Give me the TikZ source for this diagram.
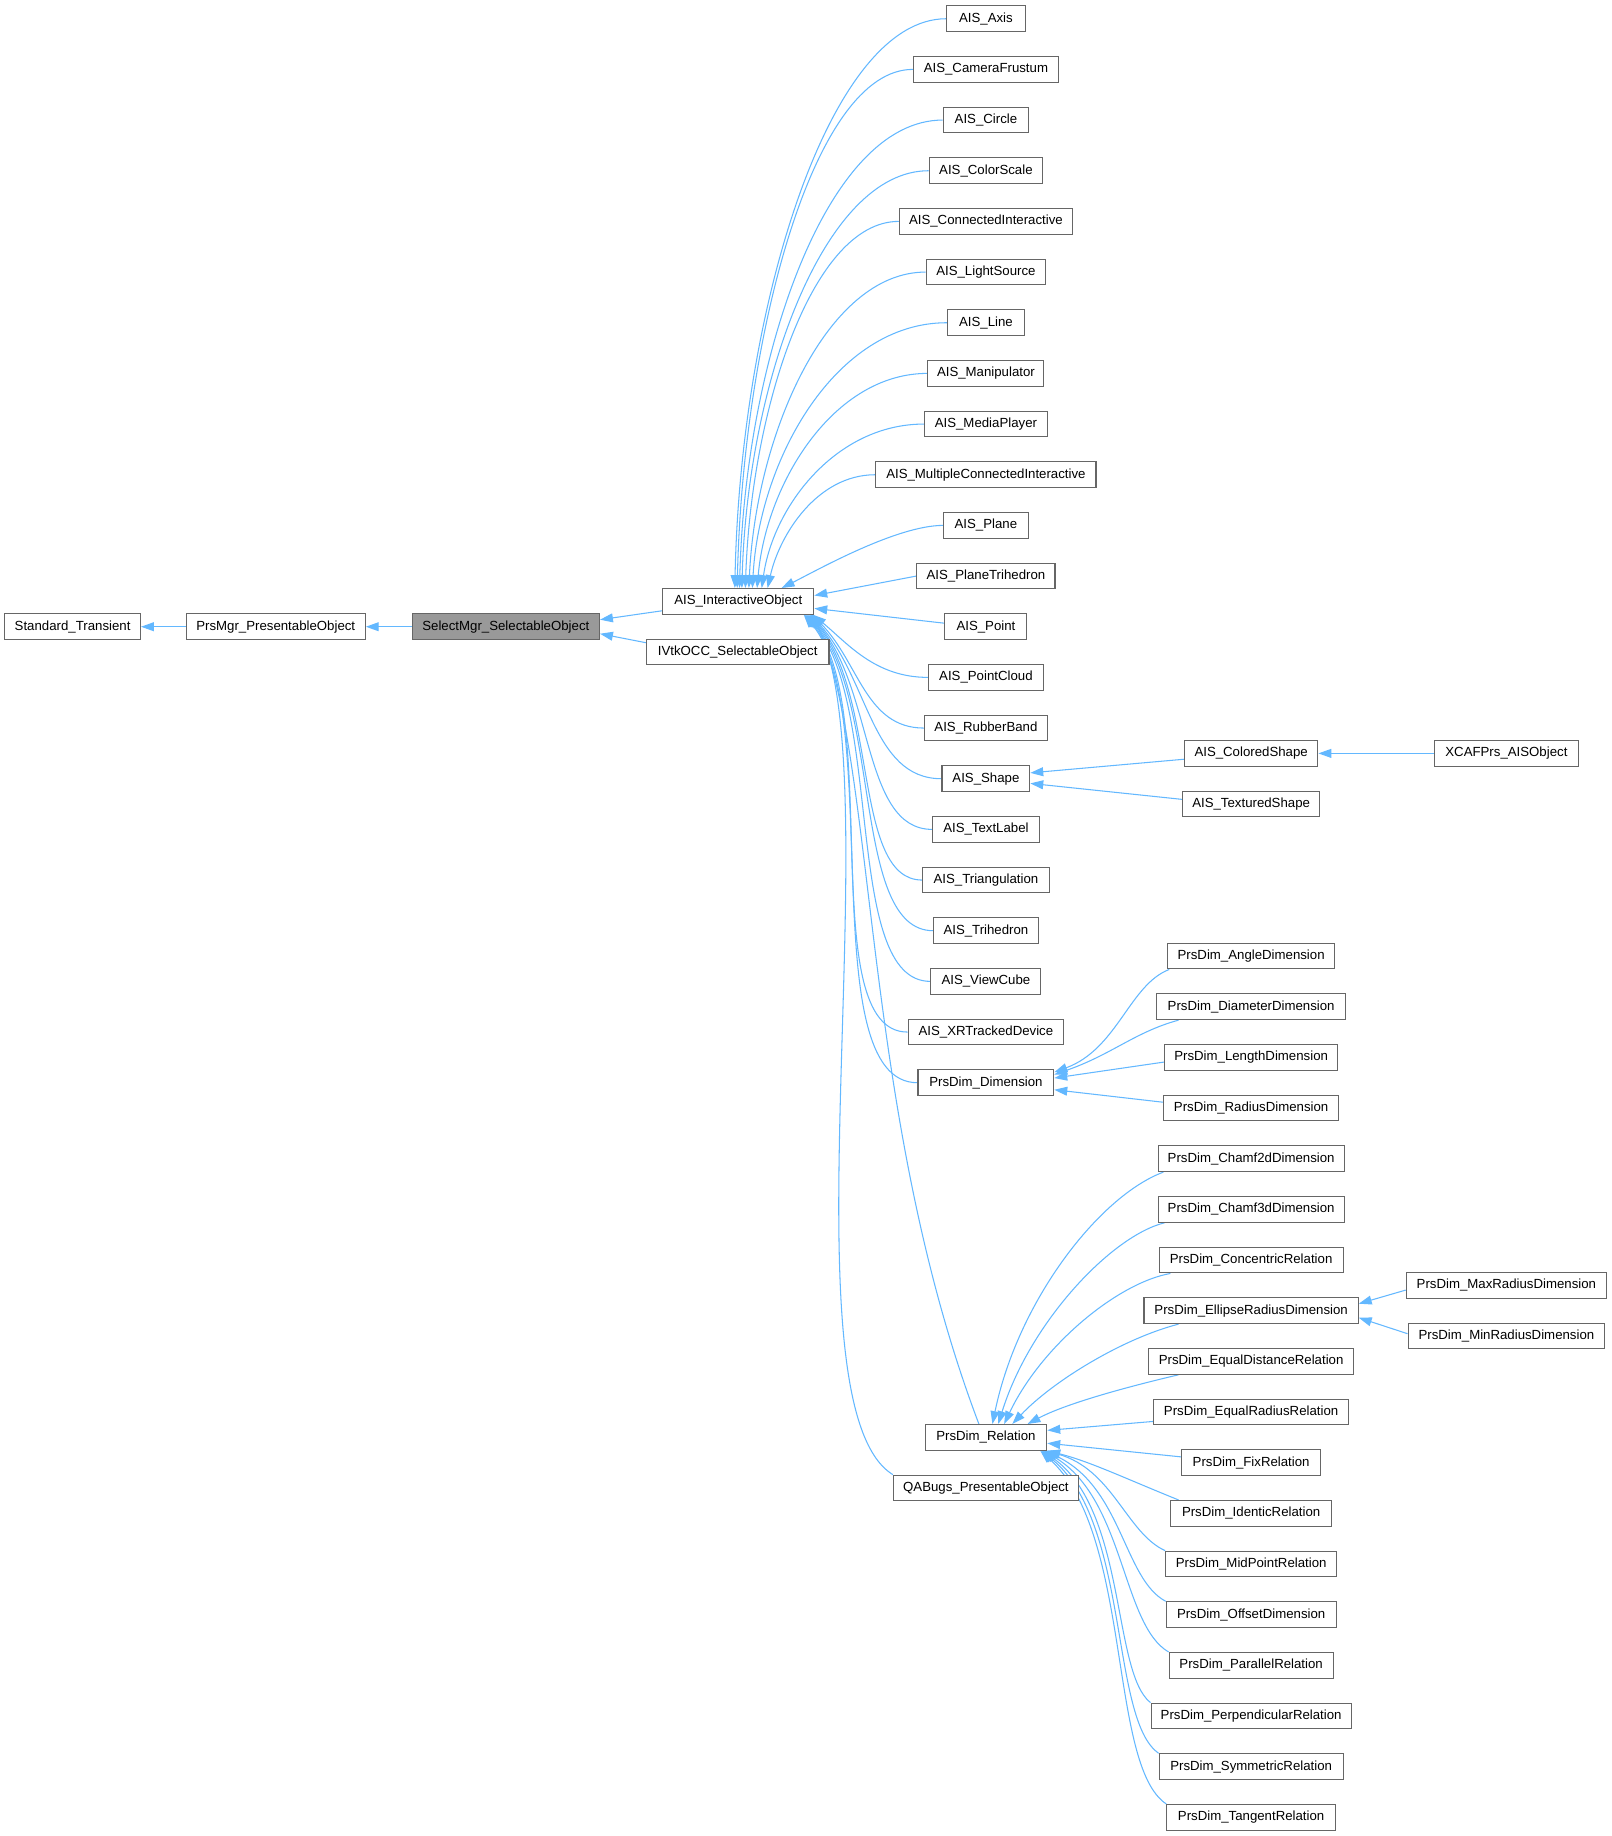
\documentclass[tikz,border=0pt]{standalone}
\usepackage{fontspec}
\setmainfont{Liberation Sans}
\usetikzlibrary{arrows.meta}
\definecolor{boxgray}{HTML}{666666}
\definecolor{edgeblue}{HTML}{63B8FF}
\definecolor{selgray}{HTML}{999999}
\pgfdeclarelayer{edges}
\pgfsetlayers{edges,main}
\begin{document}
\begin{tikzpicture}[x=1pt,y=-1pt,
 box/.style={draw=boxgray,fill=white,line width=0.9pt,minimum height=22pt,inner sep=0pt,font=\fontsize{11.3}{13.6}\selectfont},
 inh/.style={draw=edgeblue,line width=0.9pt,-{Triangle[length=11pt,width=7.6pt]}}]
\useasboundingbox (0,0) rectangle (1376,1568);
% left chain
\node[box,minimum width=116pt] (st) at (62,{16+43.27*12}) {Standard\_Transient};
\node[box,minimum width=153pt] (pm) at (235.5,{16+43.27*12}) {PrsMgr\_PresentableObject};
\node[box,minimum width=160pt,fill=selgray] (sm) at (432,{16+43.27*12}) {SelectMgr\_SelectableObject};
\node[box,minimum width=129pt] (aio) at (630.5,{16+43.27*11.5}) {AIS\_InteractiveObject};
\node[box,minimum width=156pt] (ivtk) at (630,{16+43.27*12.5}) {IVtkOCC\_SelectableObject};
% AIS column
\node[box,minimum width=67pt] (a0) at (842,{16+43.27*0}) {AIS\_Axis};
\node[box,minimum width=124pt] (a1) at (842,{16+43.27*1}) {AIS\_CameraFrustum};
\node[box,minimum width=73pt] (a2) at (842,{16+43.27*2}) {AIS\_Circle};
\node[box,minimum width=97pt] (a3) at (842,{16+43.27*3}) {AIS\_ColorScale};
\node[box,minimum width=148pt] (a4) at (842,{16+43.27*4}) {AIS\_ConnectedInteractive};
\node[box,minimum width=102pt] (a5) at (842,{16+43.27*5}) {AIS\_LightSource};
\node[box,minimum width=66pt] (a6) at (842,{16+43.27*6}) {AIS\_Line};
\node[box,minimum width=99pt] (a7) at (842,{16+43.27*7}) {AIS\_Manipulator};
\node[box,minimum width=105pt] (a8) at (842,{16+43.27*8}) {AIS\_MediaPlayer};
\node[box,minimum width=188pt] (a9) at (842,{16+43.27*9}) {AIS\_MultipleConnectedInteractive};
\node[box,minimum width=72pt] (a10) at (842,{16+43.27*10}) {AIS\_Plane};
\node[box,minimum width=118pt] (a11) at (842,{16+43.27*11}) {AIS\_PlaneTrihedron};
\node[box,minimum width=70pt] (a12) at (842,{16+43.27*12}) {AIS\_Point};
\node[box,minimum width=98pt] (a13) at (842,{16+43.27*13}) {AIS\_PointCloud};
\node[box,minimum width=105pt] (a14) at (842,{16+43.27*14}) {AIS\_RubberBand};
\node[box,minimum width=75pt] (a15) at (842,{16+43.27*15}) {AIS\_Shape};
\node[box,minimum width=91pt] (a16) at (842,{16+43.27*16}) {AIS\_TextLabel};
\node[box,minimum width=108pt] (a17) at (842,{16+43.27*17}) {AIS\_Triangulation};
\node[box,minimum width=89pt] (a18) at (842,{16+43.27*18}) {AIS\_Trihedron};
\node[box,minimum width=94pt] (a19) at (842,{16+43.27*19}) {AIS\_ViewCube};
\node[box,minimum width=133pt] (a20) at (842,{16+43.27*20}) {AIS\_XRTrackedDevice};
\node[box,minimum width=116pt] (a21) at (842,{16+43.27*21}) {PrsDim\_Dimension};
\node[box,minimum width=104pt] (rel) at (842,{16+43.27*28}) {PrsDim\_Relation};
\node[box,minimum width=158pt] (qab) at (842,{16+43.27*29}) {QABugs\_PresentableObject};
% third column
\node[box,minimum width=114pt] (cs) at (1068.5,{16+43.27*14.5}) {AIS\_ColoredShape};
\node[box,minimum width=117pt] (ts) at (1068.5,{16+43.27*15.5}) {AIS\_TexturedShape};
\node[box,minimum width=143pt] (dA) at (1068.5,{16+43.27*18.5}) {PrsDim\_AngleDimension};
\node[box,minimum width=161pt] (dD) at (1068.5,{16+43.27*19.5}) {PrsDim\_DiameterDimension};
\node[box,minimum width=148pt] (dL) at (1068.5,{16+43.27*20.5}) {PrsDim\_LengthDimension};
\node[box,minimum width=150pt] (dR) at (1068.5,{16+43.27*21.5}) {PrsDim\_RadiusDimension};
\node[box,minimum width=159pt] (c2d) at (1068.5,{16+43.27*22.5}) {PrsDim\_Chamf2dDimension};
\node[box,minimum width=159pt] (c3d) at (1068.5,{16+43.27*23.5}) {PrsDim\_Chamf3dDimension};
\node[box,minimum width=157pt] (conc) at (1068.5,{16+43.27*24.5}) {PrsDim\_ConcentricRelation};
\node[box,minimum width=183pt] (ell) at (1068.5,{16+43.27*25.5}) {PrsDim\_EllipseRadiusDimension};
\node[box,minimum width=175pt] (eqd) at (1068.5,{16+43.27*26.5}) {PrsDim\_EqualDistanceRelation};
\node[box,minimum width=166pt] (eqr) at (1068.5,{16+43.27*27.5}) {PrsDim\_EqualRadiusRelation};
\node[box,minimum width=119pt] (fix) at (1068.5,{16+43.27*28.5}) {PrsDim\_FixRelation};
\node[box,minimum width=137pt] (ide) at (1068.5,{16+43.27*29.5}) {PrsDim\_IdenticRelation};
\node[box,minimum width=146pt] (mid) at (1068.5,{16+43.27*30.5}) {PrsDim\_MidPointRelation};
\node[box,minimum width=145pt] (off) at (1068.5,{16+43.27*31.5}) {PrsDim\_OffsetDimension};
\node[box,minimum width=140pt] (par) at (1068.5,{16+43.27*32.5}) {PrsDim\_ParallelRelation};
\node[box,minimum width=171pt] (per) at (1068.5,{16+43.27*33.5}) {PrsDim\_PerpendicularRelation};
\node[box,minimum width=157pt] (sym) at (1068.5,{16+43.27*34.5}) {PrsDim\_SymmetricRelation};
\node[box,minimum width=144pt] (tan) at (1068.5,{16+43.27*35.5}) {PrsDim\_TangentRelation};
% fourth column
\node[box,minimum width=123pt] (xcaf) at (1286.5,{16+43.27*14.5}) {XCAFPrs\_AISObject};
\node[box,minimum width=171pt] (mx) at (1286.5,{16+43.27*25}) {PrsDim\_MaxRadiusDimension};
\node[box,minimum width=168pt] (mn) at (1286.5,{16+43.27*26}) {PrsDim\_MinRadiusDimension};
\begin{pgfonlayer}{edges}
\fill[white] (0,0) rectangle (1376,1568);
% left chain edges
\draw[inh] (pm) -- (st);
\draw[inh] (sm) -- (pm);
\draw[inh] ([yshift=-8pt]aio.west) -- ([yshift=6pt]sm.east);
\draw[inh] ([yshift=8pt]ivtk.west) -- ([yshift=-6pt]sm.east);
% AIS children to top of AIS_InteractiveObject
\draw[inh] (a0.west) .. controls +(-100,0) and +(5,-240) .. ([xshift=62pt]aio.north west);
\draw[inh] (a1.west) .. controls +(-85,0) and +(5,-215) .. ([xshift=64pt]aio.north west);
\draw[inh] (a2.west) .. controls +(-100,0) and +(5,-195) .. ([xshift=66pt]aio.north west);
\draw[inh] (a3.west) .. controls +(-90,0) and +(5,-175) .. ([xshift=68pt]aio.north west);
\draw[inh] (a4.west) .. controls +(-75,0) and +(5,-150) .. ([xshift=71pt]aio.north west);
\draw[inh] (a5.west) .. controls +(-85,0) and +(6,-130) .. ([xshift=74pt]aio.north west);
\draw[inh] (a6.west) .. controls +(-95,0) and +(6,-110) .. ([xshift=77pt]aio.north west);
\draw[inh] (a7.west) .. controls +(-80,0) and +(8,-90) .. ([xshift=81pt]aio.north west);
\draw[inh] (a8.west) .. controls +(-75,0) and +(10,-70) .. ([xshift=85pt]aio.north west);
\draw[inh] (a9.west) .. controls +(-50,0) and +(10,-45) .. ([xshift=90pt]aio.north west);
\draw[inh] (a10.west) .. controls +(-40,0) and +(30,-15) .. ([xshift=102pt]aio.north west);
\draw[inh] (a11.west) -- ([yshift=5pt]aio.east);
\draw[inh] ([yshift=3pt]a12.west) -- ([yshift=-6pt]aio.east);
% AIS children to bottom right
\draw[inh] (a13.west) .. controls +(-45,0) and +(30,25) .. ([xshift=-1pt]aio.south east);
\draw[inh] (a14.west) .. controls +(-50,0) and +(40,40) .. ([xshift=-2pt]aio.south east);
\draw[inh] (a15.west) .. controls +(-60,0) and +(50,55) .. ([xshift=-3pt]aio.south east);
\draw[inh] (a16.west) .. controls +(-60,0) and +(55,62) .. ([xshift=-4pt]aio.south east);
\draw[inh] (a17.west) .. controls +(-60,0) and +(60,68) .. ([xshift=-5pt]aio.south east);
\draw[inh] (a18.west) .. controls +(-70,0) and +(64,74) .. ([xshift=-6pt]aio.south east);
\draw[inh] (a19.west) .. controls +(-75,0) and +(67,78) .. ([xshift=-7pt]aio.south east);
\draw[inh] (a20.west) .. controls +(-80,0) and +(68,80) .. ([xshift=-8pt]aio.south east);
\draw[inh] (a21.west) .. controls +(-90,0) and +(70,82) .. ([xshift=-9pt]aio.south east);
\draw[inh] ([xshift=-6pt]rel.north) .. controls +(-101,-266) and +(55,130) .. ([xshift=-1pt]aio.south east);
\draw[inh] (qab.north west) .. controls +(-98,-60) and +(70,140) .. ([xshift=-2pt]aio.south east);
% shape
\draw[inh] (xcaf) -- (cs);
\draw[inh] ([yshift=-5pt]cs.west) -- ([yshift=5pt]a15.east);
\draw[inh] ([yshift=4pt]ts.west) -- ([yshift=-4pt]a15.east);
% dimension
\draw[inh] ([xshift=2pt]dA.south west) .. controls +(-34,13) and +(54,-20) .. ([yshift=9pt]a21.east);
\draw[inh] ([xshift=19pt]dD.south west) .. controls +(-37,10) and +(49,-17) .. ([yshift=7pt]a21.east);
\draw[inh] ([yshift=-4pt]dL.west) -- ([yshift=4pt]a21.east);
\draw[inh] ([yshift=5pt]dR.west) -- ([yshift=-6pt]a21.east);
% relation
\draw[inh] ([xshift=5pt]c2d.south west) .. controls +(-54,20) and +(22,-106) .. ([xshift=58pt]rel.north west);
\draw[inh] ([xshift=6pt]c3d.south west) .. controls +(-45,11) and +(27,-87) .. ([xshift=63pt]rel.north west);
\draw[inh] ([xshift=10pt]conc.south west) .. controls +(-45,8) and +(32,-67) .. ([xshift=68pt]rel.north west);
\draw[inh] ([xshift=30pt]ell.south west) .. controls +(-47,12) and +(35,-37) .. ([xshift=75pt]rel.north west);
\draw[inh] ([xshift=26pt]eqd.south west) .. controls +(-47,11) and +(32,-17) .. ([xshift=88pt]rel.north west);
\draw[inh] ([yshift=-8pt]eqr.west) -- ([yshift=6pt]rel.east);
\draw[inh] ([yshift=5pt]fix.west) -- ([yshift=-5pt]rel.east);
\draw[inh] ([xshift=7pt]ide.north west) .. controls +(-47,-19) and +(36,9) .. (rel.south east);
\draw[inh] (mid.north west) .. controls +(-33,-15) and +(57,16) .. ([xshift=-1pt]rel.south east);
\draw[inh] (off.north west) .. controls +(-36,-19) and +(66,31) .. ([xshift=-2pt]rel.south east);
\draw[inh] (par.north west) .. controls +(-40,-23) and +(69,41) .. ([xshift=-3pt]rel.south east);
\draw[inh] (per.north west) .. controls +(-33,-26) and +(72,51) .. ([xshift=-4pt]rel.south east);
\draw[inh] (sym.north west) .. controls +(-42,-29) and +(76,61) .. ([xshift=-5pt]rel.south east);
\draw[inh] (tan.north west) .. controls +(-50,-33) and +(79,71) .. ([xshift=-6pt]rel.south east);
% ellipse radius children
\draw[inh] ([yshift=-4pt]mx.west) -- ([yshift=6pt]ell.east);
\draw[inh] ([yshift=2pt]mn.west) -- ([yshift=-6pt]ell.east);
\end{pgfonlayer}
\end{tikzpicture}
\end{document}
